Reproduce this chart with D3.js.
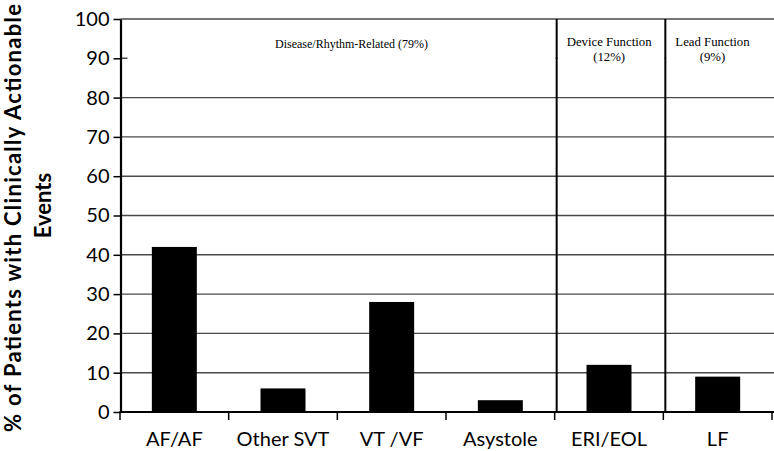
<!DOCTYPE html>
<html><head><meta charset="utf-8">
<script src="https://cdn.jsdelivr.net/npm/d3@7"></script>
<style>body{margin:0;background:#fff;}svg{display:block;}</style>
</head><body>
<svg id="c" width="774" height="451"></svg>
<script>
const categories = ["AF/AF", "Other SVT", "VT /VF", "Asystole", "ERI/EOL", "LF"];
const values = [42, 6, 28, 3, 12, 9];
const yTicks = [0, 10, 20, 30, 40, 50, 60, 70, 80, 90, 100];
const groupLabels = [["Disease/Rhythm-Related (79%)"], ["Device Function", "(12%)"], ["Lead Function", "(9%)"]];
const groupStarts = [0, 4, 5];
const groupEnds = [4, 5, 6];
const yTitleLines = ["% of Patients with Clinically Actionable", "Events"];

(function () {
const svg = d3.select("#c");
const mLeft = 120.5, mRight = 774, mTop = 19, mBottom = 412;
const bandL = 120, bandR = 772;
const x = d3.scaleBand().domain(categories).range([bandL, bandR]).paddingInner(0.586).paddingOuter(0.293);
const y = d3.scaleLinear().domain([0, 100]).range([mBottom, mTop]);
const bandStart = i => bandL + i * x.step();

// gridlines
svg.append("g").selectAll("line").data(yTicks.filter(d => d > 0)).join("line")
  .attr("x1", mLeft).attr("x2", mRight).attr("y1", d => y(d)).attr("y2", d => y(d))
  .attr("stroke", "#4a4a4a").attr("stroke-width", 1.4);

// annotation boxes (white background covering grid)
const boxes = svg.append("g");
groupLabels.forEach((lines, gi) => {
  const x0 = gi === 0 ? mLeft + 7 : bandStart(groupStarts[gi]) + 3;
  const x1 = gi === 2 ? mRight : bandStart(groupEnds[gi]) + 1;
  boxes.append("rect").attr("x", x0).attr("y", y(97)).attr("width", x1 - x0).attr("height", y(82) - y(97)).attr("fill", "#fff");
});

// bars
svg.append("g").selectAll("rect").data(values).join("rect")
  .attr("x", (d, i) => x(categories[i])).attr("width", x.bandwidth())
  .attr("y", d => y(d)).attr("height", d => y(0) - y(d)).attr("fill", "#000");

// dividers
svg.append("g").selectAll("line").data(groupStarts.slice(1)).join("line")
  .attr("x1", d => bandStart(d) + 2).attr("x2", d => bandStart(d) + 2)
  .attr("y1", y(100)).attr("y2", y(0)).attr("stroke", "#000").attr("stroke-width", 2);

// annotation texts
const ann = svg.append("g").attr("font-family", "'Liberation Serif','Times New Roman',serif").attr("fill", "#000");
ann.append("text").attr("x", 275).attr("y", y(92.6)).attr("font-size", 12).text(groupLabels[0][0]);
[1, 2].forEach(gi => {
  const x0 = bandStart(groupStarts[gi]) + 12;
  const t1 = ann.append("text").attr("x", x0).attr("y", y(93.2)).attr("font-size", 12.8).text(groupLabels[gi][0]);
  const w = t1.node().getComputedTextLength();
  ann.append("text").attr("x", x0 + w / 2).attr("y", y(93.2) + 15).attr("font-size", 12.8).attr("text-anchor", "middle").text(groupLabels[gi][1]);
});

// axes
const yAxis = d3.axisLeft(y).tickValues(yTicks).tickSize(7).tickSizeOuter(0).tickPadding(4);
const gy = svg.append("g").attr("transform", `translate(${mLeft},0)`).call(yAxis);
gy.select(".domain").attr("stroke", "#000").attr("stroke-width", 2.2);
gy.selectAll(".tick line").attr("stroke", "#000").attr("stroke-width", 1.5);
gy.selectAll(".tick text").attr("font-family", "Lato, 'Open Sans', sans-serif").attr("font-size", 20).attr("fill", "#000");

const xAxis = d3.axisBottom(x).tickSize(0).tickPadding(20);
const gx = svg.append("g").attr("transform", `translate(0,${mBottom})`).call(xAxis);
gx.select(".domain").remove();
gx.selectAll(".tick text").attr("font-family", "Lato, 'Open Sans', sans-serif").attr("font-size", 20).attr("fill", "#000");
svg.append("line").attr("x1", mLeft - 1).attr("x2", mRight).attr("y1", mBottom).attr("y2", mBottom).attr("stroke", "#000").attr("stroke-width", 2.2);
svg.append("g").selectAll("line").data(d3.range(categories.length + 1)).join("line")
  .attr("x1", d => bandStart(d)).attr("x2", d => bandStart(d))
  .attr("y1", mBottom).attr("y2", mBottom + 8).attr("stroke", "#000").attr("stroke-width", 1.5);

// y title
const titleFont = "Lato, 'Open Sans', sans-serif";
svg.append("text").attr("transform", "translate(0,218) rotate(-90)")
  .attr("text-anchor", "middle").attr("font-family", titleFont).attr("font-weight", "bold").attr("font-size", 22).attr("fill", "#000")
  .attr("x", 0).attr("y", 21).attr("textLength", 428).attr("lengthAdjust", "spacing").text(yTitleLines[0]);
svg.append("text").attr("transform", "translate(0,205.5) rotate(-90)")
  .attr("text-anchor", "middle").attr("font-family", titleFont).attr("font-weight", "bold").attr("font-size", 22).attr("fill", "#000")
  .attr("x", 0).attr("y", 51).text(yTitleLines[1]);
})();
</script>
</body></html>
